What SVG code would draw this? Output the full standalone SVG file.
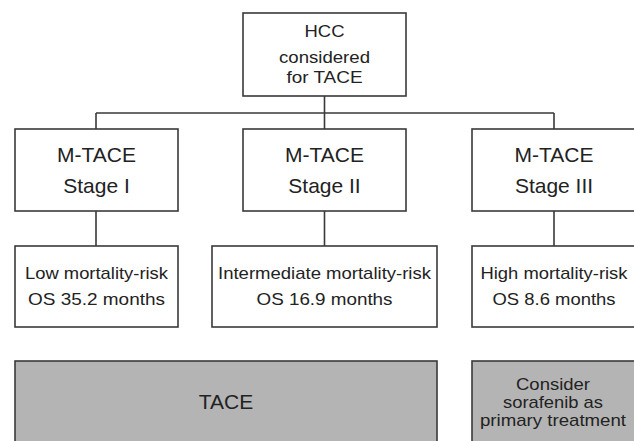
<svg xmlns="http://www.w3.org/2000/svg" width="634" height="441" viewBox="0 0 634 441">
<style>
.box{fill:#fff;stroke:#3a3a3a;stroke-width:1.6}
.gbox{fill:#b4b4b4;stroke:#3a3a3a;stroke-width:1.6}
.conn{fill:none;stroke:#3a3a3a;stroke-width:1.6}
text{font-family:"Liberation Sans",Arial,sans-serif;fill:#222;text-anchor:middle}
.s{font-size:16.4px}
.l{font-size:21px}
</style>
<rect width="634" height="441" fill="#fff"/>
<g id="connectors">
<path class="conn" d="M324.5 96V129M96 113H554M96 113V129M554 113V129"/>
<path class="conn" d="M96 211V246M324.5 211V246M554 211V246"/>
</g>
<g id="hcc">
<rect class="box" x="243" y="13" width="163" height="83"/>
<text class="s" x="324.5" y="37" textLength="40" lengthAdjust="spacingAndGlyphs">HCC</text>
<text class="s" x="324.5" y="63" textLength="91" lengthAdjust="spacingAndGlyphs">considered</text>
<text class="s" x="324.5" y="83" textLength="76" lengthAdjust="spacingAndGlyphs">for TACE</text>
</g>
<g id="stage1">
<rect class="box" x="15" y="129" width="163" height="82"/>
<text class="l" x="96.5" y="162">M-TACE</text>
<text class="l" x="96.5" y="193">Stage I</text>
</g>
<g id="stage2">
<rect class="box" x="243" y="129" width="163" height="82"/>
<text class="l" x="324.5" y="162">M-TACE</text>
<text class="l" x="324.5" y="193">Stage II</text>
</g>
<g id="stage3">
<rect class="box" x="472" y="129" width="164" height="82"/>
<text class="l" x="554" y="162">M-TACE</text>
<text class="l" x="554" y="193">Stage III</text>
</g>
<g id="risk1">
<rect class="box" x="15" y="246" width="163" height="81"/>
<text class="s" x="96.5" y="279" textLength="143" lengthAdjust="spacingAndGlyphs">Low mortality-risk</text>
<text class="s" x="96.5" y="305" textLength="137" lengthAdjust="spacingAndGlyphs">OS 35.2 months</text>
</g>
<g id="risk2">
<rect class="box" x="212" y="246" width="225" height="81"/>
<text class="s" x="324.5" y="279" textLength="213" lengthAdjust="spacingAndGlyphs">Intermediate mortality-risk</text>
<text class="s" x="324.5" y="305" textLength="136" lengthAdjust="spacingAndGlyphs">OS 16.9 months</text>
</g>
<g id="risk3">
<rect class="box" x="472" y="246" width="164" height="81"/>
<text class="s" x="554" y="279" textLength="147" lengthAdjust="spacingAndGlyphs">High mortality-risk</text>
<text class="s" x="554" y="305" textLength="123" lengthAdjust="spacingAndGlyphs">OS 8.6 months</text>
</g>
<g id="tace">
<rect class="gbox" x="15" y="361" width="422" height="84"/>
<text class="l" x="226" y="409">TACE</text>
</g>
<g id="sorafenib">
<rect class="gbox" x="472" y="361" width="164" height="84"/>
<text class="s" x="553" y="390" textLength="74" lengthAdjust="spacingAndGlyphs">Consider</text>
<text class="s" x="553" y="408" textLength="100" lengthAdjust="spacingAndGlyphs">sorafenib as</text>
<text class="s" x="553" y="426" textLength="146" lengthAdjust="spacingAndGlyphs">primary treatment</text>
</g>
</svg>
